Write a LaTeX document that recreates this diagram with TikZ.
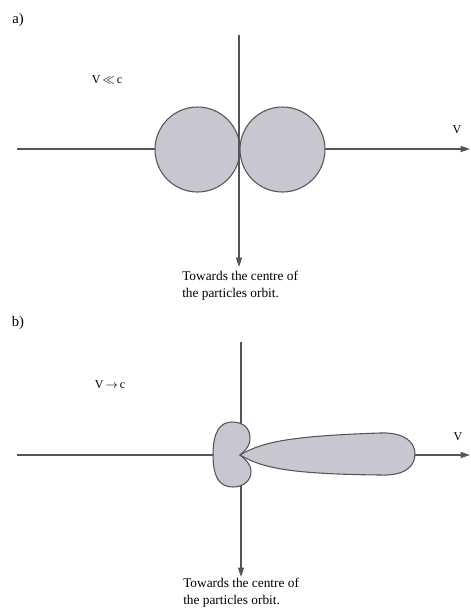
\documentclass[tikz,border=0pt]{standalone}
\usepackage{fontspec}
\setmainfont{Liberation Serif}
\usetikzlibrary{arrows.meta}

\definecolor{lobefill}{rgb}{0.78,0.78,0.82}
\definecolor{axisgrey}{rgb}{0.33,0.33,0.35}

\begin{document}
\begin{tikzpicture}[x=0.75pt, y=-0.75pt,
	axis/.style={draw=axisgrey, line width=0.9pt},
	axisarrow/.style={axis, -{Triangle[length=7pt, width=4.5pt]}},
	lobe/.style={fill=lobefill, draw=axisgrey, line width=0.8pt},
	panel/.style={inner sep=0pt, font=\fontsize{11}{13}\selectfont},
	lbl/.style={inner sep=0pt, font=\fontsize{9}{10}\selectfont},
	note/.style={inner sep=0pt, align=left, anchor=north west, font=\fontsize{10}{12.75}\selectfont}]
	\useasboundingbox (0,0) rectangle (471,611);
	% a) slow particle, V << c
	\node[panel] (pa) at (18,20) {a)};
	\coordinate (aW) at (17,149);
	\coordinate (aE) at (470,149);
	\coordinate (aN) at (239,35);
	\coordinate (aS) at (239,267);
	\draw[axis] (aW) -- (239,149);
	\draw[axisarrow] (239,149) -- (aE);
	\draw[axisarrow] (aN) -- (aS);
	\draw[lobe] (197.5,149.5) circle [radius=42.5];
	\draw[lobe] (282.5,149.5) circle [radius=42.5];
	\draw[axis] (239,107) -- (239,192);
	\node[lbl] (aslow) at (107,80) {V\,$\ll$\,c};
	\node[lbl] (av) at (457,130) {V};
	\node[note] (atext) at (182,271) {Towards the centre of\\the particles orbit.};
	% b) relativistic particle, V -> c
	\node[panel] (pb) at (18,323) {b)};
	\coordinate (bW) at (17,455);
	\coordinate (bE) at (470,455);
	\coordinate (bN) at (241,342);
	\coordinate (bS) at (241,577);
	\draw[axisarrow] (bW) -- (bE);
	\draw[axisarrow] (bN) -- (bS);
	% backward lobe
	\draw[lobe] (240,455) .. controls (246,450) and (250,446) .. (250,438)
		.. controls (250,427) and (242,422) .. (232,422)
		.. controls (220,422) and (213,432) .. (213,455)
		.. controls (213,478) and (220,487) .. (233,487)
		.. controls (244,487) and (251,480) .. (251,472)
		.. controls (251,464) and (246,460) .. (240,455) -- cycle;
	% forward lobe
	\draw[lobe] (240,455) .. controls (262,442) and (290,436) .. (380,433)
		.. controls (404,432) and (415,442) .. (415,454)
		.. controls (415,467) and (404,476) .. (380,475)
		.. controls (290,474) and (262,468) .. (240,455) -- cycle;
	\node[lbl] (bfast) at (110,385) {V\,$\to$\,c};
	\node[lbl] (bv) at (458,437) {V};
	\node[note] (btext) at (183,578) {Towards the centre of\\the particles orbit.};
\end{tikzpicture}
\end{document}
